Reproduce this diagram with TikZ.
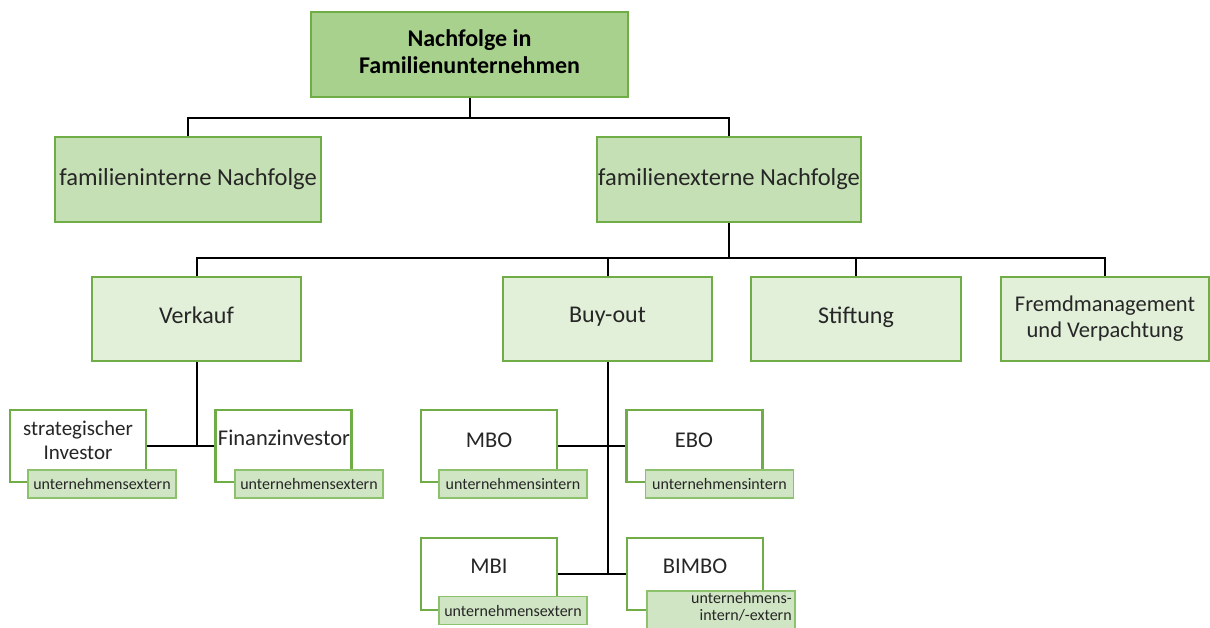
\documentclass[tikz,border=0pt]{standalone}
\usepackage{fontspec}
\setmainfont{Carlito}
\definecolor{gborder}{HTML}{70AD47}
\definecolor{gtop}{HTML}{A9D18E}
\definecolor{gmid}{HTML}{C5E0B4}
\definecolor{glight}{HTML}{E2F0D9}
\definecolor{gtag}{HTML}{D0E5C4}
\definecolor{gtagb}{HTML}{8CC26C}
\definecolor{txt}{HTML}{262626}
\tikzset{
  box/.style={draw=gborder, line width=2.4pt, inner sep=0pt, align=center, text=txt},
  topbox/.style={box, fill=gtop, font=\fontsize{24}{27}\selectfont\bfseries, text=black},
  midbox/.style={box, fill=gmid, font=\fontsize{24.5}{28}\selectfont},
  lowbox/.style={box, fill=glight, font=\fontsize{24}{28}\selectfont},
  leafbox/.style={box, fill=white, minimum width=136pt, minimum height=72pt},
  leaftext/.style={inner sep=0pt, align=center, text=txt, font=\fontsize{22.5}{24}\selectfont},
  tagbox/.style={draw=gtagb, line width=1.8pt, fill=gtag, inner sep=0pt, minimum width=148pt, minimum height=28pt, text=txt, font=\fontsize{16}{18}\selectfont},
  conn/.style={draw=black, line width=2pt}
}
\begin{document}
\begin{tikzpicture}[x=1pt,y=-1pt]
\useasboundingbox (0,0) rectangle (1210,627);
% level 0
\node[topbox, minimum width=317pt, minimum height=85pt] (top) at (469.5,54.5) {\raisebox{6pt}{\begin{tabular}{@{}c@{}}Nachfolge in\\Familienunternehmen\end{tabular}}};
% level 1
\node[midbox, minimum width=266pt, minimum height=85pt] (intern) at (188,179.5) {\raisebox{4pt}{familieninterne Nachfolge}};
\node[midbox, minimum width=264pt, minimum height=85pt] (extern) at (729,179.5) {\raisebox{4pt}{familienexterne Nachfolge}};
% level 2
\node[lowbox, minimum width=209pt, minimum height=84pt] (verkauf) at (196.5,319) {\raisebox{8pt}{Verkauf}};
\node[lowbox, minimum width=209pt, minimum height=84pt] (buyout) at (607.5,319) {\raisebox{8pt}{Buy-out}};
\node[lowbox, minimum width=210pt, minimum height=84pt] (stiftung) at (856,319) {\raisebox{8pt}{Stiftung}};
\node[lowbox, minimum width=208pt, minimum height=84pt, font=\fontsize{22.5}{26}\selectfont] (fremd) at (1105,319) {\raisebox{4pt}{\begin{tabular}{@{}c@{}}Fremdmanagement\\und Verpachtung\end{tabular}}};
% leaves
\node[leafbox] (si) at (78,446) {};
\node[leaftext, font=\fontsize{21}{24}\selectfont] (sit) at (78,440) {strategischer\\Investor};
\node[tagbox] (sitag) at (102,484) {unternehmensextern};
\node[leafbox] (fi) at (283.5,446) {};
\node[leaftext] (fit) at (284,438) {Finanzinvestor};
\node[tagbox] (fitag) at (309,484) {unternehmensextern};
\node[leafbox] (mbo) at (489,446) {};
\node[leaftext] (mbot) at (489,440) {MBO};
\node[tagbox] (mbotag) at (513,484) {unternehmensintern};
\node[leafbox] (ebo) at (694.5,446) {};
\node[leaftext] (ebot) at (694,440) {EBO};
\node[tagbox] (ebotag) at (719.5,484) {unternehmensintern};
\node[leafbox] (mbi) at (489,574) {};
\node[leaftext] (mbit) at (489,566) {MBI};
\node[tagbox] (mbitag) at (513,610.5) {unternehmensextern};
\node[leafbox] (bimbo) at (695,574) {};
\node[leaftext] (bimbot) at (695,566) {BIMBO};
\node[tagbox, minimum height=38pt] (bimbotag) at (721,610) {};
\node[inner sep=0pt, align=right, text=txt, font=\fontsize{16}{17}\selectfont, anchor=north east] (bimbotagt) at ([xshift=-4pt,yshift=-2pt]bimbotag.north east) {unternehmens-\\intern/-extern};
% connectors
\coordinate (j0) at (469.5,118);
\draw[conn] (top.south) -- (j0);
\draw[conn] (intern.north) |- (j0) -| (extern.north);
\coordinate (j1) at (729,258);
\draw[conn] (extern.south) -- (j1);
\draw[conn] (verkauf.north) |- (j1) -| (fremd.north);
\draw[conn] (buyout.north) -- (buyout.north |- j1);
\draw[conn] (stiftung.north) -- (stiftung.north |- j1);
\draw[conn] (verkauf.south) -- (verkauf.south |- si.east);
\draw[conn] (si.east) -- (fi.west);
\draw[conn] (buyout.south) -- (buyout.south |- mbi.east);
\draw[conn] (mbo.east) -- (ebo.west);
\draw[conn] (mbi.east) -- (bimbo.west);
\end{tikzpicture}
\end{document}
